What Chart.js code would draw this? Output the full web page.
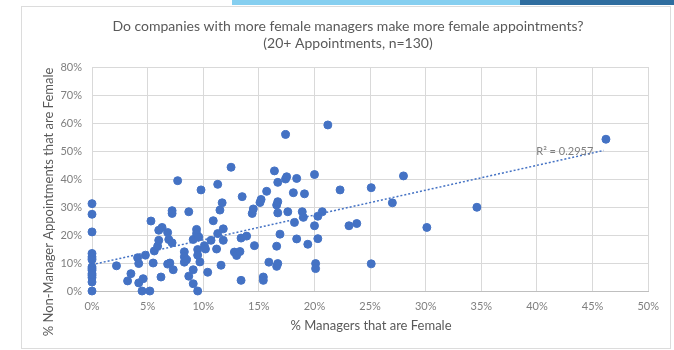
<!DOCTYPE html>
<html>
<head>
<meta charset="utf-8">
<script src="https://cdn.jsdelivr.net/npm/chart.js@4.4.1/dist/chart.umd.min.js"></script>
<style>
  body { margin: 0; background: #fff; }
  #page { position: relative; width: 674px; height: 350px; overflow: hidden; background: #fff; }
  #band1 { position: absolute; left: 232px; top: 0; width: 290px; height: 5px; background: #86cff0; }
  #band2 { position: absolute; left: 520px; top: 0; width: 154px; height: 5px; background: #2f6d9f; }
  #frame { position: absolute; left: 21px; top: 6px; width: 648px; height: 341px; border: 1px solid #dcdcdc; }
  #box { position: absolute; left: 22px; top: 7px; width: 646px; height: 339px; }
</style>
</head>
<body>
<div id="page">
  <div id="band1"></div>
  <div id="band2"></div>
  <div id="frame"></div>
  <div id="box"><canvas id="myChart"></canvas></div>
</div>
<script>
// % managers that are female (x) and % non-manager appointments that are female (y)
const femaleManagers = [
  0, 0, 0, 0, 0, 0, 0, 0, 0, 0, 0, 0, 0, 0,
  2.2, 3.2, 3.5, 4.1, 4.2, 4.2, 4.6, 4.5, 4.8, 5.2, 5.3, 5.5, 5.6, 5.9, 6.0, 6.0,
  6.3, 6.2, 6.8, 6.9, 6.8, 7.0, 7.2, 7.2, 7.2, 7.3, 7.7, 8.3, 8.3, 8.3, 8.5, 8.7,
  8.7, 9.1, 9.1, 9.1, 9.4, 9.4, 9.5, 9.5, 9.6, 9.5, 9.7, 9.8, 10.1, 10.2, 10.4, 10.7,
  10.9, 11.2, 11.3, 11.3, 11.5, 11.6, 11.7, 11.8, 11.8, 12.5, 12.8, 13.0, 13.3, 13.4,
  13.4, 13.5, 13.9, 14.4, 14.5, 14.6, 15.1, 15.2, 15.4, 15.4, 15.7, 15.9, 16.4, 16.6,
  16.6, 16.6, 16.7, 16.7, 16.7, 16.7, 16.9, 17.4, 17.4, 17.5, 17.6, 18.1, 18.2, 18.4,
  18.4, 18.9, 19.0, 19.1, 19.4, 20.0, 20.0, 20.1, 20.1, 20.3, 20.3, 20.7, 21.2, 22.3,
  23.1, 23.8, 25.1, 25.1, 27.0, 28.0, 30.1, 34.6, 46.2
];
const femaleAppointments = [
  31.2, 27.4, 21.1, 13.4, 12.2, 11.2, 8.6, 8.0, 7.4, 6.2, 5.6, 4.8, 3.2, 0,
  9.0, 3.6, 6.2, 11.9, 9.8, 2.9, 4.4, 0, 12.8, 0, 25.0, 10.0, 14.3, 16.0, 18.1, 21.7,
  22.7, 5.0, 20.9, 18.4, 9.6, 10.0, 17.2, 28.7, 27.7, 7.6, 39.4, 14.0, 12.2, 10.3, 11.2, 28.3,
  5.3, 7.6, 2.6, 18.4, 22.0, 20.5, 14.8, 12.8, 19.3, 0, 10.4, 36.1, 16.2, 15.0, 6.7, 18.1,
  25.1, 15.0, 38.1, 20.5, 28.9, 9.2, 31.5, 22.2, 18.1, 44.2, 13.9, 12.7, 14.1, 3.8,
  18.9, 33.7, 19.6, 27.7, 29.3, 16.2, 31.6, 32.7, 5.0, 3.8, 35.6, 10.3, 42.9, 30.7,
  8.8, 16.0, 31.9, 38.8, 27.9, 9.8, 20.3, 55.9, 40.0, 40.8, 28.3, 35.1, 24.5, 40.2,
  18.6, 28.3, 26.3, 34.7, 16.7, 41.6, 23.3, 9.8, 8.0, 18.7, 26.7, 28.3, 59.3, 36.1,
  23.3, 24.1, 36.9, 9.7, 31.5, 41.1, 22.7, 29.9, 54.2
];

// dotted trendline end points
const trendX = [0, 46];
const trendY = [9.4, 50.2];
const trendLabel = 'R\u00b2 = 0.2957';

const chartTitle = ['Do companies with more female managers make more female appointments?', '(20+ Appointments, n=130)'];
const xTitle = '% Managers that are Female';
const yTitle = '% Non-Manager Appointments that are Female';

const blue = '#4472c4';
const fontName = 'Lato, "Open Sans", sans-serif';

const textPlugin = {
  id: 'texts',
  afterDraw(chart) {
    const ctx = chart.ctx;
    const xs = chart.scales.x, ys = chart.scales.y;
    ctx.save();
    ctx.fillStyle = '#595959';
    ctx.textAlign = 'center';
    ctx.textBaseline = 'middle';
    ctx.font = '14px ' + fontName;
    ctx.fillText(chartTitle[0], 326, 19);
    ctx.fillText(chartTitle[1], 326, 36);
    ctx.font = '13px ' + fontName;
    ctx.fillText(xTitle, 349, 319);
    ctx.translate(27, 195);
    ctx.rotate(-Math.PI / 2);
    ctx.fillText(yTitle, 0, 0);
    ctx.restore();

    ctx.save();
    ctx.fillStyle = '#7f7f7f';
    ctx.font = '11px ' + fontName;
    ctx.textAlign = 'center';
    ctx.textBaseline = 'middle';
    ctx.fillText(trendLabel, xs.getPixelForValue(42.5), ys.getPixelForValue(50));
    ctx.restore();
  }
};

const data = {
  datasets: [{
    type: 'line',
    data: trendX.map((x, i) => ({ x: x, y: trendY[i] })),
    borderColor: blue,
    borderWidth: 1.5,
    borderDash: [2, 2],
    pointRadius: 0,
    fill: false
  }, {
    type: 'scatter',
    data: femaleManagers.map((x, i) => ({ x: x, y: femaleAppointments[i] })),
    backgroundColor: blue,
    borderColor: blue,
    pointRadius: 4,
    pointHoverRadius: 4,
    clip: false
  }]
};

const config = {
  type: 'scatter',
  data,
  plugins: [textPlugin],
  options: {
    responsive: true,
    maintainAspectRatio: false,
    animation: false,
    layout: { padding: { left: 0, right: 18, top: 60, bottom: 0 } },
    plugins: {
      legend: { display: false },
      tooltip: { enabled: false }
    },
    scales: {
      x: {
        type: 'linear',
        min: 0,
        max: 50,
        afterFit: function(scale) { scale.height = 55; },
        grid: { color: '#d9d9d9', drawTicks: false },
        border: { color: '#bfbfbf' },
        ticks: {
          stepSize: 5,
          padding: 9,
          color: '#7f7f7f',
          font: { family: fontName, size: 11 },
          callback: function(value) { return value + '%'; }
        }
      },
      y: {
        min: 0,
        max: 80,
        afterFit: function(scale) { scale.width = 70; },
        grid: { color: '#d9d9d9', drawTicks: false },
        border: { color: '#d9d9d9' },
        ticks: {
          stepSize: 10,
          padding: 10,
          color: '#7f7f7f',
          font: { family: fontName, size: 11 },
          callback: function(value) { return value + '%'; }
        }
      }
    }
  }
};

new Chart(document.getElementById('myChart'), config);
</script>
</body>
</html>
